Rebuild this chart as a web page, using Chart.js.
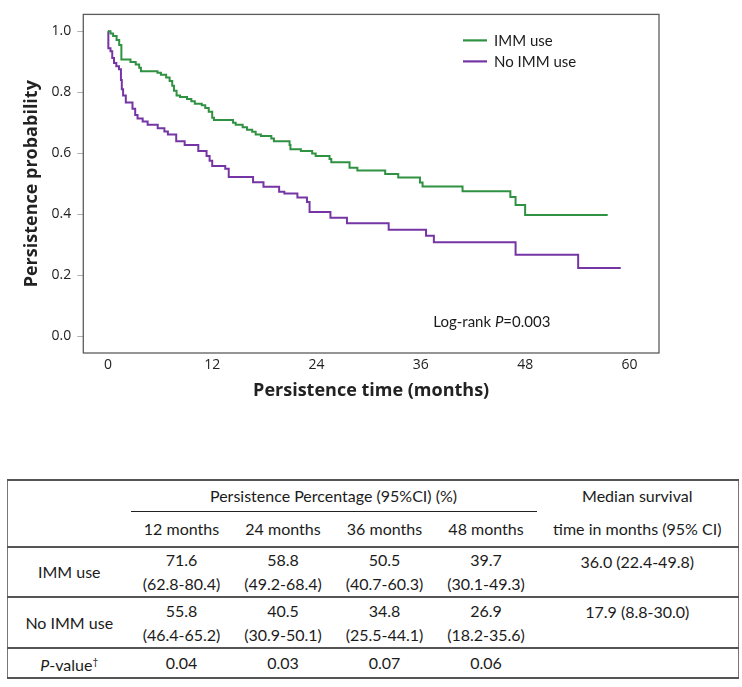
<!DOCTYPE html>
<html>
<head>
<meta charset="utf-8">
<script src="https://cdn.jsdelivr.net/npm/chart.js@4.4.1/dist/chart.umd.min.js"></script>
<style>
  html, body { margin: 0; padding: 0; background: #fff; }
  #wrap { position: absolute; left: 0; top: 0; width: 742px; height: 410px; }
  table {
    position: absolute; left: 7px; top: 479px; width: 731px;
    border-collapse: collapse; table-layout: fixed;
    font-family: Lato, "Open Sans", sans-serif; font-size: 16px; color: #1b1b1b;
    border-left: 1.5px solid #777; border-right: 1.5px solid #777;
  }
  td { text-align: center; padding: 0; line-height: 24px; white-space: nowrap; }
  tr.sep td { border-top: 2px solid #555; }
  tr.last td { border-bottom: 2px solid #555; }
  td.under { border-bottom: 1.2px solid #222; }
  td.top { vertical-align: top; padding-top: 2px; }
</style>
</head>
<body>
<div id="wrap"><canvas id="km"></canvas></div>
<table id="tbl"></table>
<script>
// Kaplan-Meier steps (months, persistence probability after each drop)
const immTime = [0, 0.3, 0.6, 1.0, 1.3, 1.55, 2.6, 3.2, 3.6, 3.8, 5.7, 6.1, 6.7, 7.1, 7.4, 7.6, 7.9, 8.3, 9.1, 9.6, 10.0, 10.8, 11.2, 11.6, 12.0, 12.2, 14.4, 14.7, 15.5, 16.0, 16.6, 17.0, 17.6, 18.8, 19.1, 20.9, 21.0, 22.2, 23.5, 23.9, 25.5, 25.7, 27.8, 28.7, 31.9, 33.4, 35.9, 36.2, 40.8, 46.3, 46.9, 48.0, 57.5];
const immSurv = [1.0, 0.992, 0.984, 0.971, 0.955, 0.907, 0.899, 0.891, 0.880, 0.869, 0.864, 0.857, 0.848, 0.837, 0.821, 0.805, 0.789, 0.784, 0.778, 0.770, 0.762, 0.757, 0.748, 0.736, 0.716, 0.709, 0.700, 0.693, 0.685, 0.677, 0.670, 0.661, 0.656, 0.648, 0.639, 0.627, 0.613, 0.607, 0.599, 0.591, 0.581, 0.570, 0.552, 0.543, 0.532, 0.520, 0.504, 0.491, 0.475, 0.456, 0.430, 0.397, 0.397];

const noImmTime = [0, 0.05, 0.3, 0.5, 0.7, 0.97, 1.28, 1.5, 1.6, 1.75, 2.06, 2.83, 3.14, 3.41, 4.0, 4.57, 5.73, 6.5, 6.9, 7.86, 8.83, 10.4, 11.35, 11.7, 12.0, 13.5, 13.9, 16.7, 17.9, 19.7, 20.3, 21.8, 22.9, 23.2, 25.6, 27.5, 32.3, 36.6, 37.5, 46.9, 54.1, 59.0];
const noImmSurv = [1.0, 0.944, 0.934, 0.912, 0.896, 0.885, 0.875, 0.840, 0.810, 0.789, 0.766, 0.746, 0.725, 0.714, 0.704, 0.693, 0.682, 0.671, 0.661, 0.639, 0.627, 0.607, 0.591, 0.575, 0.558, 0.549, 0.522, 0.505, 0.490, 0.474, 0.468, 0.455, 0.440, 0.407, 0.388, 0.370, 0.349, 0.329, 0.308, 0.267, 0.224, 0.224];

const seriesNames = ['IMM use', 'No IMM use'];
const seriesColors = ['#2f9142', '#7535a4'];
const xTicks = [0, 12, 24, 36, 48, 60];
const yTicks = [0, 0.2, 0.4, 0.6, 0.8, 1.0];

// table values
const colHeads = ['12 months', '24 months', '36 months', '48 months'];
const immPct = ['71.6', '58.8', '50.5', '39.7'];
const immCI = ['(62.8-80.4)', '(49.2-68.4)', '(40.7-60.3)', '(30.1-49.3)'];
const noImmPct = ['55.8', '40.5', '34.8', '26.9'];
const noImmCI = ['(46.4-65.2)', '(30.9-50.1)', '(25.5-44.1)', '(18.2-35.6)'];
const pValues = ['0.04', '0.03', '0.07', '0.06'];
const medians = ['36.0 (22.4-49.8)', '17.9 (8.8-30.0)'];

function pts(t, s) { return t.map((x, i) => ({x: x, y: s[i]})); }

const frame = {
  id: 'frame',
  afterDraw(chart) {
    const ctx = chart.ctx, a = chart.chartArea;
    ctx.save();
    ctx.strokeStyle = '#5c5c5c';
    ctx.lineWidth = 1.3;
    ctx.strokeRect(a.left, a.top, a.right - a.left, a.bottom - a.top);

    // legend inside the plot box
    ctx.font = '15px Lato';
    ctx.textBaseline = 'middle';
    chart.data.datasets.forEach((ds, i) => {
      const y = a.top + 26 + i * 21;
      ctx.strokeStyle = ds.borderColor;
      ctx.lineWidth = 2.2;
      ctx.beginPath();
      ctx.moveTo(a.right - 196, y);
      ctx.lineTo(a.right - 172, y);
      ctx.stroke();
      ctx.fillStyle = '#1b1b1b';
      ctx.fillText(ds.label, a.right - 165, y + 1);
    });

    // log-rank annotation
    let x = a.left + 350, y = a.bottom - 31;
    ctx.fillStyle = '#1b1b1b';
    ctx.font = '15px Lato';
    ctx.fillText('Log-rank ', x, y);
    x += ctx.measureText('Log-rank ').width;
    ctx.font = 'italic 15px Lato';
    ctx.fillText('P', x, y);
    x += ctx.measureText('P').width;
    ctx.font = '15px Lato';
    ctx.fillText('=0.003', x, y);
    ctx.restore();
  }
};

new Chart(document.getElementById('km'), {
  type: 'line',
  data: {
    datasets: [
      { label: seriesNames[0], data: pts(immTime, immSurv), borderColor: seriesColors[0] },
      { label: seriesNames[1], data: pts(noImmTime, noImmSurv), borderColor: seriesColors[1] }
    ]
  },
  options: {
    responsive: true,
    maintainAspectRatio: false,
    animation: false,
    datasets: { line: { stepped: 'before', borderWidth: 2, pointRadius: 0, fill: false } },
    layout: { padding: { left: 0, right: 83, top: 7, bottom: 0 } },
    plugins: { legend: { display: false }, tooltip: { enabled: false } },
    scales: {
      x: {
        type: 'linear',
        min: -2.83, max: 63.4,
        afterBuildTicks: s => { s.ticks = xTicks.map(v => ({value: v})); },
        afterFit: s => { s.height = 57; },
        grid: { display: false, drawTicks: false },
        border: { display: false },
        ticks: { padding: 4, color: '#222', font: { family: 'Open Sans', size: 14 }, callback: v => v },
        title: { display: true, text: 'Persistence time (months)', color: '#222',
                 font: { family: 'Open Sans', size: 18, weight: 'bold' }, padding: { top: 0, bottom: 8 } }
      },
      y: {
        min: -0.055, max: 1.055,
        afterBuildTicks: s => { s.ticks = yTicks.map(v => ({value: v})); },
        afterFit: s => { s.width = 83.3; },
        grid: { drawOnChartArea: false, drawTicks: true, tickLength: 6, color: '#b0b0b0' },
        border: { display: false },
        ticks: { padding: 6, color: '#222', font: { family: 'Open Sans', size: 14 }, callback: v => v.toFixed(1) },
        title: { display: true, text: 'Persistence probability', color: '#222',
                 font: { family: 'Open Sans', size: 18, weight: 'bold' }, padding: { top: 21, bottom: 0 } }
      }
    }
  },
  plugins: [frame]
});

// build the table
const tbl = document.getElementById('tbl');
let html = '<colgroup><col style="width:123px"><col style="width:102px"><col style="width:101px"><col style="width:102px"><col style="width:101px"><col style="width:202px"></colgroup>';
html += '<tr class="sep" style="height:31px"><td rowspan="2"></td><td colspan="4" class="under">Persistence Percentage (95%CI) (%)</td><td>Median survival</td></tr>';
html += '<tr style="height:36px">' + colHeads.map(c => '<td>' + c + '</td>').join('') + '<td>time in months (95% CI)</td></tr>';
html += '<tr class="sep" style="height:50px"><td>' + seriesNames[0] + '</td>' + immPct.map((v, i) => '<td>' + v + '<br>' + immCI[i] + '</td>').join('') + '<td class="top">' + medians[0] + '</td></tr>';
html += '<tr class="sep" style="height:51px"><td>' + seriesNames[1] + '</td>' + noImmPct.map((v, i) => '<td>' + v + '<br>' + noImmCI[i] + '</td>').join('') + '<td class="top">' + medians[1] + '</td></tr>';
html += '<tr class="sep last" style="height:30px"><td><i>P</i>-value<sup style="font-size:10px">&dagger;</sup></td>' + pValues.map(v => '<td>' + v + '</td>').join('') + '<td></td></tr>';
tbl.innerHTML = html;
</script>
</body>
</html>
